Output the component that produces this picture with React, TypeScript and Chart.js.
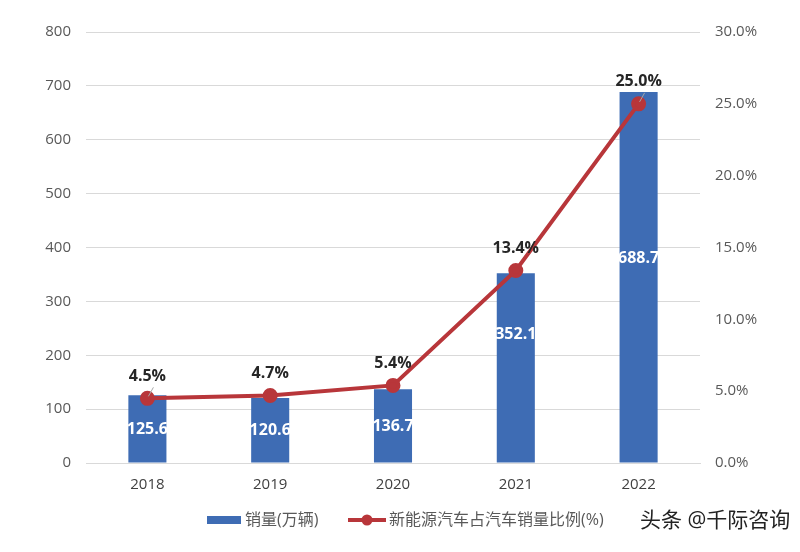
import React, { useEffect, useRef } from "react";
import { Chart, registerables } from "chart.js";

Chart.register(...registerables);

const years = ["2018", "2019", "2020", "2021", "2022"];
const sales = [125.6, 120.6, 136.7, 352.1, 688.7];
const share = [4.5, 4.7, 5.4, 13.4, 25.0];
const salesLabel = "销量(万辆)";
const shareLabel = "新能源汽车占汽车销量比例(%)";
const watermark = "头条 @千际咨询";

const BAR = "#3e6cb4";
const LINE = "#b8363a";
const FONT = "'Open Sans', 'Noto Sans CJK SC', sans-serif";

const overlay = {
  id: "overlay",
  afterDatasetsDraw(chart: any) {
    const ctx = chart.ctx;
    const y = chart.scales.y;
    const barMeta = chart.getDatasetMeta(0);
    const lineMeta = chart.getDatasetMeta(1);
    ctx.save();
    ctx.textAlign = "center";
    ctx.textBaseline = "middle";
    ctx.font = `bold 16px ${FONT}`;
    ctx.fillStyle = "#ffffff";
    barMeta.data.forEach((el: any, i: number) => {
      const v = sales[i];
      const f = v < 200 ? 0.5 : v < 500 ? 0.68 : 0.55;
      const py = y.getPixelForValue(v * f);
      ctx.fillText(v.toFixed(1), el.x, py);
    });
    // leader lines
    ctx.strokeStyle = "#a6a6a6";
    ctx.lineWidth = 1;
    [0, lineMeta.data.length - 1].forEach((i) => {
      const el = lineMeta.data[i];
      ctx.beginPath();
      ctx.moveTo(el.x + 1, el.y - 2);
      ctx.lineTo(el.x + 6, el.y - 11);
      ctx.stroke();
    });
    ctx.fillStyle = "#262626";
    lineMeta.data.forEach((el: any, i: number) => {
      ctx.fillText(share[i].toFixed(1) + "%", el.x, el.y - 22);
    });
    // legend
    const ly = 520;
    ctx.fillStyle = BAR;
    ctx.fillRect(207, ly - 4, 34, 8);
    ctx.textAlign = "left";
    ctx.font = `16px ${FONT}`;
    ctx.fillStyle = "#595959";
    ctx.fillText(salesLabel, 245, ly);
    ctx.strokeStyle = LINE;
    ctx.lineWidth = 4;
    ctx.beginPath();
    ctx.moveTo(348, ly);
    ctx.lineTo(386, ly);
    ctx.stroke();
    ctx.fillStyle = LINE;
    ctx.beginPath();
    ctx.arc(367, ly, 5.5, 0, Math.PI * 2);
    ctx.fill();
    ctx.fillStyle = "#595959";
    ctx.fillText(shareLabel, 389, ly);
    ctx.font = `21px ${FONT}`;
    ctx.fillStyle = "#222222";
    ctx.fillText(watermark, 640, ly + 1);
    ctx.restore();
  },
};

export default function App() {
  const ref = useRef<HTMLCanvasElement>(null);
  useEffect(() => {
    const chart = new Chart(ref.current!, {
      type: "bar",
      data: {
        labels: years,
        datasets: [
          {
            type: "bar",
            label: salesLabel,
            data: sales,
            backgroundColor: BAR,
            categoryPercentage: 1,
            barPercentage: 0.31,
            yAxisID: "y",
            order: 2,
          },
          {
            type: "line",
            label: shareLabel,
            data: share,
            borderColor: LINE,
            backgroundColor: LINE,
            borderWidth: 4,
            pointRadius: 5.5,
            pointBackgroundColor: LINE,
            pointBorderColor: LINE,
            tension: 0,
            yAxisID: "y1",
            order: 1,
          } as any,
        ],
      },
      options: {
        animation: false,
        responsive: false,
        layout: { padding: { top: 32, left: 0, right: 0, bottom: 0 } },
        plugins: { legend: { display: false }, tooltip: { enabled: false } },
        scales: {
          x: {
            grid: { display: false, drawTicks: false },
            border: { display: true, color: "#d9d9d9" },
            ticks: { color: "#404040", font: { size: 15, family: FONT }, padding: 13 },
            afterFit(s: any) { s.height = 89; },
          },
          y: {
            position: "left",
            min: 0,
            max: 800,
            ticks: { stepSize: 100, color: "#595959", font: { size: 15, family: FONT }, padding: 15 },
            grid: { color: "#d9d9d9", drawTicks: false },
            border: { display: false },
            afterFit(s: any) { s.width = 86; },
          },
          y1: {
            position: "right",
            min: 0,
            max: 30,
            ticks: {
              stepSize: 5,
              color: "#595959",
              font: { size: 15, family: FONT },
              padding: 15,
              callback: (v: any) => Number(v).toFixed(1) + "%",
            },
            grid: { display: false, drawTicks: false },
            border: { display: false },
            afterFit(s: any) { s.width = 100; },
          },
        },
      },
      plugins: [overlay],
    });
    return () => chart.destroy();
  }, []);
  return (
    <div style={{ position: "fixed", left: 0, top: 0, width: 800, height: 552, background: "#fff" }}>
      <canvas ref={ref} width={800} height={552} />
    </div>
  );
}
